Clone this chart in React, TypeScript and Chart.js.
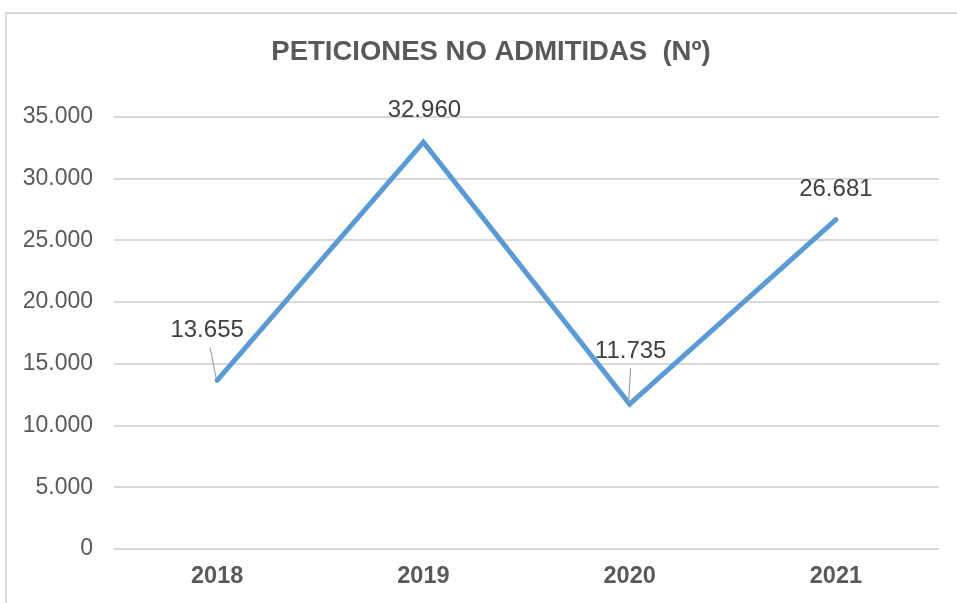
import React, { useEffect, useRef } from "react";
import { Chart, registerables } from "chart.js";

Chart.register(...registerables);

const TITLE = "PETICIONES NO ADMITIDAS  (Nº)";
const categories = ["2018", "2019", "2020", "2021"];
const values = [13655, 32960, 11735, 26681];
const yMin = 0;
const yMax = 35000;
const yStep = 5000;

const fmt = (v: number) =>
  String(Math.round(v)).replace(/\B(?=(\d{3})+(?!\d))/g, ".");

const FONT = "'Liberation Sans', Arial, sans-serif";

const framePlugin = {
  id: "frame",
  beforeDraw(chart: any) {
    const ctx = chart.ctx;
    ctx.save();
    ctx.fillStyle = "#ffffff";
    ctx.fillRect(0, 0, chart.width, chart.height);
    ctx.strokeStyle = "#d9d9d9";
    ctx.lineWidth = 2;
    ctx.strokeRect(6, 13, chart.width + 40, chart.height + 40);
    ctx.restore();
  },
};

const titlePlugin = {
  id: "customTitle",
  afterDraw(chart: any, _args: any, opts: any) {
    const ctx = chart.ctx;
    ctx.save();
    ctx.font = `bold ${opts.size}px ${FONT}`;
    ctx.fillStyle = opts.color;
    ctx.textAlign = "center";
    ctx.textBaseline = "middle";
    ctx.fillText(opts.text, opts.x, opts.y);
    ctx.restore();
  },
};

const labelPlugin = {
  id: "pointLabels",
  afterDatasetsDraw(chart: any, _args: any, opts: any) {
    const ctx = chart.ctx;
    const meta = chart.getDatasetMeta(0);
    const data = chart.data.datasets[0].data as number[];
    ctx.save();
    meta.data.forEach((pt: any, i: number) => {
      const o = opts.offsets[i];
      const lx = pt.x + o.dx;
      const ly = pt.y + o.dy;
      if (o.leader) {
        ctx.strokeStyle = "#a6a6a6";
        ctx.lineWidth = 1.2;
        ctx.beginPath();
        ctx.moveTo(lx + o.lx, ly + 17);
        ctx.lineTo(pt.x - 1, pt.y - 2);
        ctx.stroke();
      }
      ctx.font = `${opts.size}px ${FONT}`;
      ctx.fillStyle = opts.color;
      ctx.textAlign = "center";
      ctx.textBaseline = "middle";
      ctx.fillText(fmt(data[i]), lx, ly);
    });
    ctx.restore();
  },
};

export default function App() {
  const ref = useRef<HTMLCanvasElement | null>(null);
  useEffect(() => {
    if (!ref.current) return;
    const chart = new Chart(ref.current, {
      type: "line",
      data: {
        labels: categories,
        datasets: [
          {
            data: values,
            borderColor: "#5b9bd5",
            borderWidth: 5,
            borderCapStyle: "round",
            borderJoinStyle: "miter",
            pointRadius: 0,
            tension: 0,
            fill: false,
          },
        ],
      },
      plugins: [framePlugin, titlePlugin, labelPlugin],
      options: {
        responsive: false,
        animation: false,
        layout: { padding: { left: 10, top: 117, right: 18, bottom: 0 } },
        plugins: {
          legend: { display: false },
          tooltip: { enabled: false },
          title: { display: false },
          customTitle: { text: TITLE, x: 491, y: 52, size: 27.5, color: "#595959" },
          pointLabels: {
            size: 24,
            color: "#404040",
            offsets: [
              { dx: -10, dy: -50, leader: true, lx: 3 },
              { dx: 1, dy: -32 },
              { dx: 1, dy: -53, leader: true, lx: 0 },
              { dx: 0, dy: -30 },
            ],
          },
        } as any,
        scales: {
          x: {
            offset: true,
            grid: { display: false, drawTicks: false },
            border: { display: false },
            ticks: {
              padding: 13,
              color: "#595959",
              font: { family: FONT, size: 23.5, weight: "bold" },
            },
            afterFit(scale: any) {
              scale.height = 54;
            },
          },
          y: {
            min: yMin,
            max: yMax,
            grid: { color: "#d9d9d9", lineWidth: 2, drawTicks: false },
            border: { display: false },
            ticks: {
              stepSize: yStep,
              padding: 21,
              color: "#595959",
              font: { family: FONT, size: 23 },
              callback: (v: any) => fmt(Number(v)),
            },
            afterFit(scale: any) {
              scale.width = 104;
            },
          },
        },
      } as any,
    });
    return () => chart.destroy();
  }, []);
  return (
    <div style={{ position: "absolute", left: 0, top: 0, width: 957, height: 603 }}>
      <canvas ref={ref} width={957} height={603} />
    </div>
  );
}
